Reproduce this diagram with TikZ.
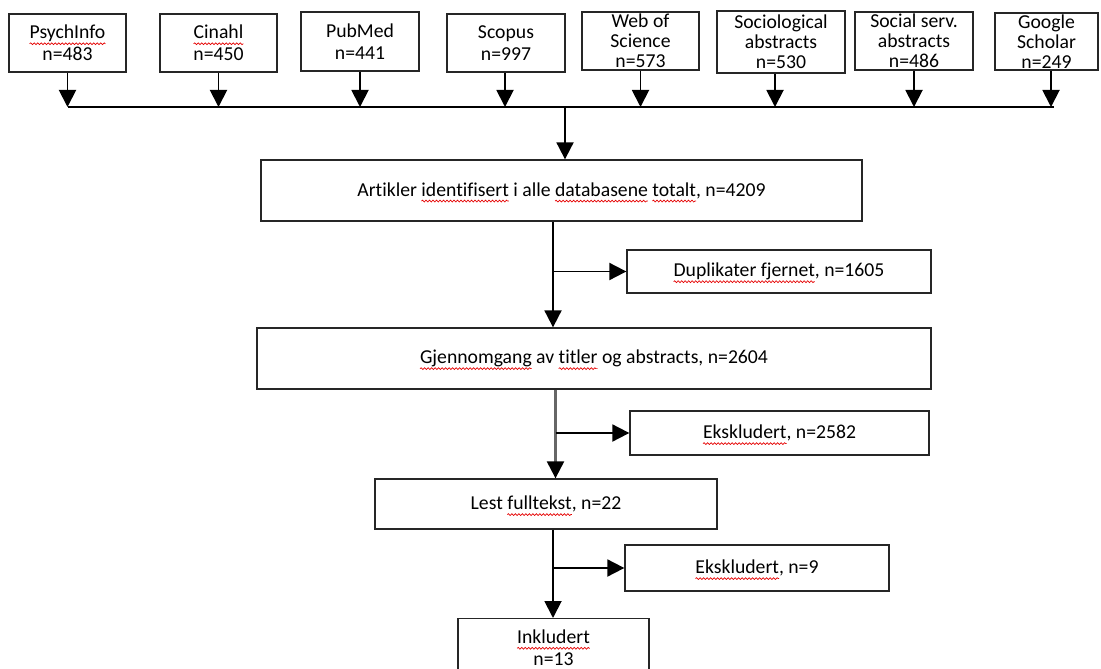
\documentclass[tikz,border=0pt]{standalone}
\usepackage{fontspec}
\setmainfont{Carlito}[Ligatures=NoCommon]
\usepackage{xcolor}
\usetikzlibrary{arrows.meta,decorations.pathmorphing}
\newsavebox{\spellbox}
\newcommand{\spell}[1]{\sbox{\spellbox}{#1}\tikz[overlay,baseline=0pt]\draw[red!90!black, line width=0.7pt, decorate, decoration={snake, amplitude=0.9pt, segment length=3.5pt}] (0pt,-5pt) -- (\wd\spellbox,-5pt);\usebox{\spellbox}}

\begin{document}
\begin{tikzpicture}[
    x=1pt, y=-1pt,
    font=\fontsize{19.7}{22}\selectfont,
    base box/.style={draw=black!85, line width=1.3pt, align=center, inner sep=0pt},
    db box/.style={base box, minimum width=117pt, minimum height=58pt},
    three lines/.style={font=\fontsize{19.7}{20}\selectfont},
    flow line/.style={-{Triangle[length=17pt,width=17pt,color=black]}, line width=1.9pt},
    plain line/.style={line width=1.9pt}
    ]
\useasboundingbox (0,0) rectangle (1101,669);
% databases
\node[db box] (psych) at (67.5,43) {\spell{PsychInfo}\\n=483};
\node[db box] (cinahl) at (218.5,43) {\spell{Cinahl}\\n=450};
\node[db box, minimum width=118pt, minimum height=59pt] (pubmed) at (360,41.5) {PubMed\\n=441};
\node[db box, minimum width=118pt] (scopus) at (506,43) {Scopus\\n=997};
\node[db box, three lines] (wos) at (640.5,41) {Web of\\Science\\n=573};
\node[db box, three lines, minimum width=128pt, minimum height=62pt] (socio) at (781,42) {Sociological\\abstracts\\n=530};
\node[db box, three lines, minimum width=118pt] (socserv) at (914,41) {Social serv.\\abstracts\\n=486};
\node[db box, three lines, minimum width=103pt, minimum height=57pt] (google) at (1046.5,41.5) {Google\\Scholar\\n=249};
\coordinate (busL) at (68,107);
\coordinate (busR) at (1054,107);
\coordinate (busJ) at (565,107);
\coordinate (t1) at (553,0);
\coordinate (t2) at (555.5,0);
% main flow
\node[base box, minimum width=601pt, minimum height=61pt] (total) at (561.5,190.5) {Artikler \spell{identifisert} i alle \spell{databasene} \spell{totalt}, n=4209};
\node[base box, minimum width=304pt, minimum height=43pt] (dup) at (779,271.5) {\spell{Duplikater fjernet}, n=1605};
\node[base box, minimum width=674pt, minimum height=61pt] (screen) at (594,358.5) {\spell{Gjennomgang} av \spell{titler} og abstracts, n=2604};
\node[base box, minimum width=299pt, minimum height=44pt] (excl1) at (779.5,433) {\spell{Ekskludert}, n=2582};
\node[base box, minimum width=342pt, minimum height=50pt] (full) at (546,504) {Lest \spell{fulltekst}, n=22};
\node[base box, minimum width=264pt, minimum height=46pt] (excl2) at (757,568) {\spell{Ekskludert}, n=9};
\node[base box, anchor=north, minimum width=191pt, inner ysep=11pt] (incl) at (553.5,618) {\spell{Inkludert}\\n=13};
%
\draw[flow line] (psych.south) -- (psych.south |- busL);
\draw[flow line] (cinahl.south) -- (cinahl.south |- busL);
\draw[flow line] (pubmed.south) -- (pubmed.south |- busL);
\draw[flow line] ([xshift=-1pt]scopus.south) -- ([xshift=-1pt]scopus.south |- busL);
\draw[flow line] (wos.south) -- (wos.south |- busL);
\draw[flow line] ([xshift=-6pt]socio.south) -- ([xshift=-6pt]socio.south |- busL);
\draw[flow line] (socserv.south) -- (socserv.south |- busL);
\draw[flow line] ([xshift=4.5pt]google.south) -- ([xshift=4.5pt]google.south |- busL);
\draw[plain line] (busL) -- (busR);
\draw[flow line] (busJ) -- (busJ |- total.north);
\draw[flow line] (total.south -| t1) -- (screen.north -| t1);
\draw[flow line] (dup.west -| t1) -- (dup.west);
\draw[flow line, draw=black!60, line width=2.2pt] (screen.south -| t2) -- (full.north -| t2);
\draw[flow line] (excl1.west -| t2) -- (excl1.west);
\draw[flow line] (full.south -| t1) -- (incl.north -| t1);
\draw[flow line] (excl2.west -| t1) -- (excl2.west);
\end{tikzpicture}
\end{document}
